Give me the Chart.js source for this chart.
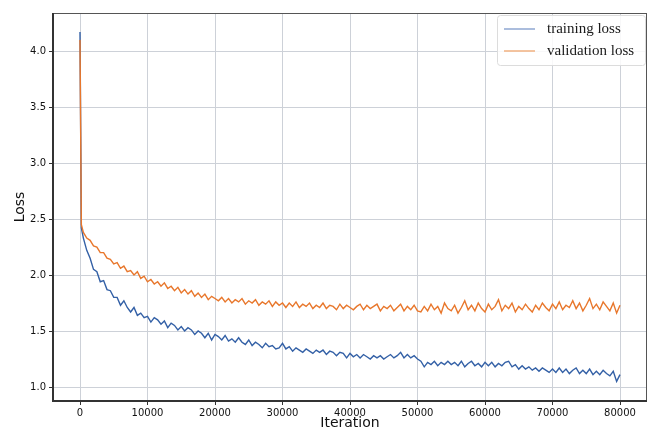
<!DOCTYPE html>
<html>
<head>
<meta charset="utf-8">
<script src="https://cdn.jsdelivr.net/npm/chart.js@4"></script>
<style>
  html, body { margin: 0; padding: 0; background: #fff; }
  #lossChart { display: block; }
</style>
</head>
<body>
<canvas id="lossChart" width="654" height="430"></canvas>
<script>
// iterations (x values)
var iterations = [0, 200,
  500, 1000, 1500, 2000, 2500, 3000, 3500, 4000, 4500, 5000,
  5500, 6000, 6500, 7000, 7500, 8000, 8500, 9000, 9500, 10000,
  10500, 11000, 11500, 12000, 12500, 13000, 13500, 14000, 14500, 15000,
  15500, 16000, 16500, 17000, 17500, 18000, 18500, 19000, 19500, 20000,
  20500, 21000, 21500, 22000, 22500, 23000, 23500, 24000, 24500, 25000,
  25500, 26000, 26500, 27000, 27500, 28000, 28500, 29000, 29500, 30000,
  30500, 31000, 31500, 32000, 32500, 33000, 33500, 34000, 34500, 35000,
  35500, 36000, 36500, 37000, 37500, 38000, 38500, 39000, 39500, 40000,
  40500, 41000, 41500, 42000, 42500, 43000, 43500, 44000, 44500, 45000,
  45500, 46000, 46500, 47000, 47500, 48000, 48500, 49000, 49500, 50000,
  50500, 51000, 51500, 52000, 52500, 53000, 53500, 54000, 54500, 55000,
  55500, 56000, 56500, 57000, 57500, 58000, 58500, 59000, 59500, 60000,
  60500, 61000, 61500, 62000, 62500, 63000, 63500, 64000, 64500, 65000,
  65500, 66000, 66500, 67000, 67500, 68000, 68500, 69000, 69500, 70000,
  70500, 71000, 71500, 72000, 72500, 73000, 73500, 74000, 74500, 75000,
  75500, 76000, 76500, 77000, 77500, 78000, 78500, 79000, 79500, 80000];

var trainingLoss = [4.17, 2.42,
  2.33, 2.22, 2.15, 2.05, 2.03, 1.94, 1.95, 1.87, 1.86, 1.80,
  1.80, 1.73, 1.77, 1.71, 1.67, 1.71, 1.64, 1.66, 1.62, 1.63,
  1.58, 1.62, 1.60, 1.56, 1.59, 1.53, 1.57, 1.55, 1.51, 1.54,
  1.50, 1.53, 1.51, 1.47, 1.50, 1.48, 1.44, 1.48, 1.42, 1.47,
  1.45, 1.42, 1.46, 1.41, 1.43, 1.40, 1.44, 1.40, 1.38, 1.42,
  1.37, 1.40, 1.38, 1.35, 1.39, 1.36, 1.37, 1.34, 1.35, 1.39,
  1.34, 1.36, 1.32, 1.35, 1.33, 1.31, 1.34, 1.32, 1.30, 1.33,
  1.31, 1.33, 1.29, 1.32, 1.31, 1.28, 1.31, 1.30, 1.26, 1.30,
  1.27, 1.29, 1.26, 1.29, 1.27, 1.25, 1.28, 1.26, 1.28, 1.25,
  1.27, 1.29, 1.26, 1.28, 1.31, 1.26, 1.29, 1.26, 1.28, 1.25,
  1.23, 1.18, 1.22, 1.20, 1.23, 1.19, 1.22, 1.20, 1.23, 1.20,
  1.22, 1.19, 1.23, 1.18, 1.21, 1.23, 1.19, 1.21, 1.18, 1.22,
  1.19, 1.22, 1.18, 1.21, 1.19, 1.22, 1.23, 1.18, 1.20, 1.16,
  1.19, 1.16, 1.18, 1.15, 1.17, 1.14, 1.17, 1.15, 1.13, 1.16,
  1.13, 1.17, 1.13, 1.16, 1.12, 1.15, 1.17, 1.12, 1.15, 1.12,
  1.16, 1.11, 1.14, 1.11, 1.15, 1.12, 1.10, 1.14, 1.05, 1.11];

var validationLoss = [4.10, 2.45,
  2.38, 2.33, 2.31, 2.26, 2.25, 2.20, 2.20, 2.15, 2.14, 2.10,
  2.11, 2.06, 2.08, 2.03, 2.04, 2.00, 2.03, 1.97, 1.99, 1.94,
  1.96, 1.92, 1.94, 1.90, 1.93, 1.88, 1.90, 1.86, 1.89, 1.84,
  1.87, 1.83, 1.86, 1.81, 1.84, 1.80, 1.83, 1.78, 1.81, 1.79,
  1.77, 1.80, 1.76, 1.79, 1.75, 1.78, 1.76, 1.79, 1.74, 1.77,
  1.75, 1.78, 1.73, 1.76, 1.74, 1.77, 1.72, 1.76, 1.73, 1.75,
  1.71, 1.75, 1.72, 1.76, 1.71, 1.74, 1.72, 1.75, 1.70, 1.73,
  1.71, 1.75, 1.70, 1.73, 1.72, 1.69, 1.74, 1.70, 1.73, 1.71,
  1.69, 1.72, 1.74, 1.69, 1.73, 1.70, 1.72, 1.74, 1.68, 1.72,
  1.70, 1.73, 1.68, 1.71, 1.74, 1.68, 1.72, 1.69, 1.73, 1.68,
  1.67, 1.72, 1.68, 1.74, 1.69, 1.72, 1.66, 1.75, 1.70, 1.68,
  1.73, 1.66, 1.71, 1.77, 1.69, 1.73, 1.68, 1.75, 1.70, 1.67,
  1.74, 1.69, 1.72, 1.78, 1.68, 1.73, 1.70, 1.75, 1.67, 1.72,
  1.69, 1.74, 1.70, 1.67, 1.73, 1.69, 1.75, 1.71, 1.68, 1.74,
  1.70, 1.76, 1.69, 1.73, 1.71, 1.77, 1.70, 1.75, 1.68, 1.73,
  1.79, 1.70, 1.74, 1.69, 1.76, 1.72, 1.68, 1.75, 1.66, 1.73];

var xTicks = [0, 10000, 20000, 30000, 40000, 50000, 60000, 70000, 80000];
var yTicks = [1.0, 1.5, 2.0, 2.5, 3.0, 3.5, 4.0];

var blue = '#3360a6';
var orange = '#e8772c';

function toPoints(ys) {
  return ys.map(function (y, i) { return { x: iterations[i], y: y }; });
}

// frame around the plot area (matplotlib spines)
var framePlugin = {
  id: 'frame',
  afterDraw: function (chart) {
    var a = chart.chartArea, c = chart.ctx;
    c.save();
    c.strokeStyle = '#555';
    c.lineWidth = 1;
    c.strokeRect(a.left + 0.5, a.top + 0.5, a.right - a.left - 1, a.bottom - a.top - 1);
    c.strokeStyle = '#333';
    c.lineWidth = 2;
    c.beginPath();
    c.moveTo(a.left, a.top);
    c.lineTo(a.left, a.bottom);
    c.lineTo(a.right, a.bottom);
    c.stroke();
    c.restore();
  }
};

// boxed legend in the upper right corner
var legendPlugin = {
  id: 'boxLegend',
  afterDraw: function (chart) {
    var a = chart.chartArea, c = chart.ctx;
    var sets = chart.data.datasets;
    var w = 148, h = 50, x = a.right - w - 2, y = a.top + 2;
    c.save();
    c.fillStyle = 'rgba(255,255,255,0.85)';
    c.strokeStyle = '#dcdcdc';
    c.lineWidth = 1;
    c.beginPath();
    c.roundRect(x + 0.5, y + 0.5, w, h, 3);
    c.fill();
    c.stroke();
    c.font = '15px "Liberation Serif"';
    c.textBaseline = 'middle';
    sets.forEach(function (ds, i) {
      var ly = y + 14 + i * 22;
      c.strokeStyle = ds.legendColor;
      c.lineWidth = 1.5;
      c.beginPath();
      c.moveTo(x + 7, ly);
      c.lineTo(x + 38, ly);
      c.stroke();
      c.fillStyle = '#1a1a1a';
      c.fillText(ds.label, x + 50, ly);
    });
    c.restore();
  }
};

var ctx = document.getElementById('lossChart').getContext('2d');

var lossChart = new Chart(ctx, {
  type: 'line',
  data: {
    datasets: [{
      label: 'training loss',
      data: toPoints(trainingLoss),
      borderColor: blue,
      legendColor: '#8fa7d2',
      borderWidth: 1.4,
      pointRadius: 0,
      tension: 0,
      order: 1
    }, {
      label: 'validation loss',
      data: toPoints(validationLoss),
      borderColor: orange,
      legendColor: '#f0b07f',
      borderWidth: 1.4,
      pointRadius: 0,
      tension: 0,
      order: 0
    }]
  },
  options: {
    responsive: false,
    animation: false,
    layout: { padding: { top: 13, right: 7, bottom: 0, left: 0 } },
    plugins: {
      legend: { display: false },
      tooltip: { enabled: false }
    },
    scales: {
      x: {
        type: 'linear',
        min: -4000,
        max: 84000,
        afterBuildTicks: function (scale) {
          scale.ticks = xTicks.map(function (v) { return { value: v }; });
        },
        afterFit: function (scale) { scale.height = 29; },
        grid: { color: '#cdd1d8', lineWidth: 1, tickLength: 4, tickColor: '#333' },
        border: { display: false },
        ticks: {
          padding: 2,
          maxRotation: 0,
          color: '#111',
          font: { family: 'DejaVu Sans', size: 10 },
          callback: function (v) { return String(v); }
        },
        title: {
          display: true,
          text: 'Iteration',
          color: '#111',
          font: { family: 'DejaVu Sans', size: 14, lineHeight: 1 },
          padding: 0
        }
      },
      y: {
        min: 0.875,
        max: 4.34,
        afterBuildTicks: function (scale) {
          scale.ticks = yTicks.map(function (v) { return { value: v }; });
        },
        afterFit: function (scale) { scale.width = 53; },
        grid: { color: '#cdd1d8', lineWidth: 1, tickLength: 4, tickColor: '#333' },
        border: { display: false },
        ticks: {
          padding: 3,
          color: '#111',
          font: { family: 'DejaVu Sans', size: 10 },
          callback: function (v) { return Number(v).toFixed(1); }
        },
        title: {
          display: true,
          text: 'Loss',
          color: '#111',
          font: { family: 'DejaVu Sans', size: 14 },
          padding: 12
        }
      }
    }
  },
  plugins: [framePlugin, legendPlugin]
});
</script>
</body>
</html>
